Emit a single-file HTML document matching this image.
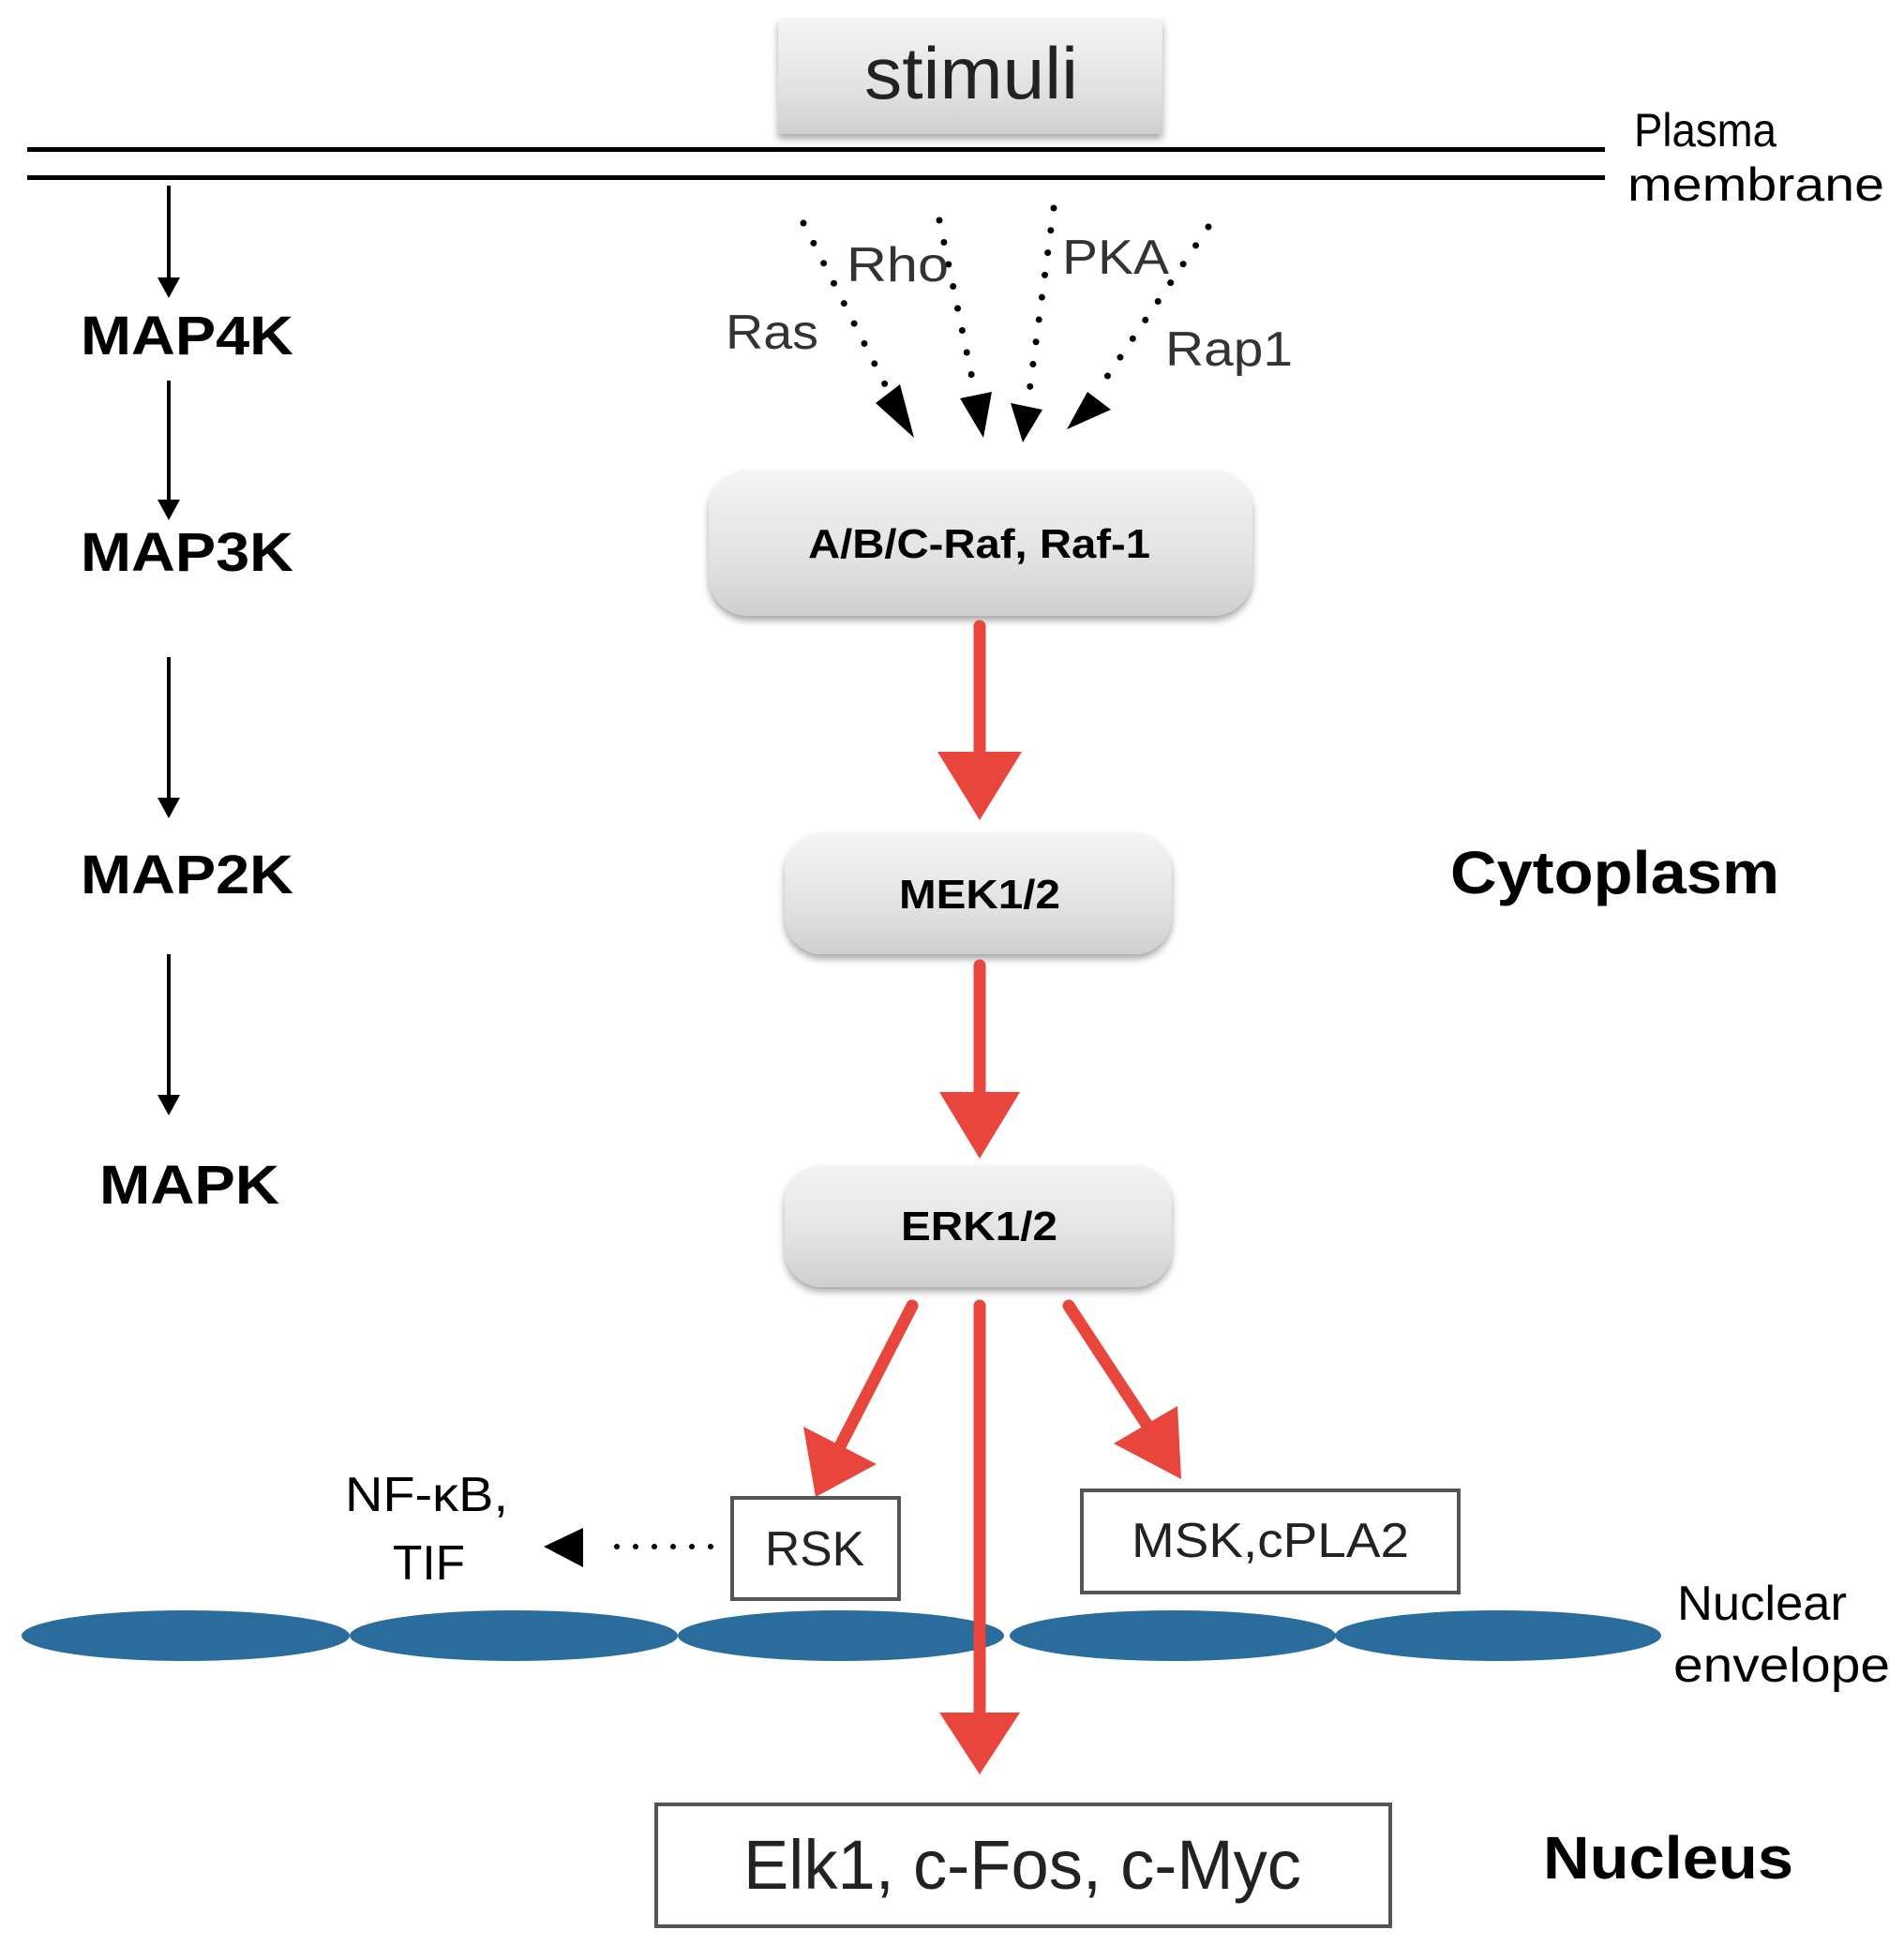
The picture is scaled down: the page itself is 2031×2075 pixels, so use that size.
<!DOCTYPE html>
<html><head><meta charset="utf-8"><style>html,body{margin:0;padding:0;background:#fff}svg{display:block}</style></head>
<body>
<svg width="2031" height="2075" viewBox="0 0 2031 2075" xmlns="http://www.w3.org/2000/svg" font-family="Liberation Sans, sans-serif">
<defs>
<linearGradient id="g" x1="0" y1="0" x2="0" y2="1">
<stop offset="0" stop-color="#f4f4f4"/><stop offset="0.6" stop-color="#e2e2e2"/><stop offset="1" stop-color="#cfcfcf"/>
</linearGradient>
<filter id="sh" x="-10%" y="-10%" width="120%" height="130%"><feDropShadow dx="0" dy="5" stdDeviation="4" flood-color="#000" flood-opacity="0.35"/></filter>
</defs>
<!-- stimuli -->
<rect x="830" y="20" width="410" height="123" fill="url(#g)" filter="url(#sh)"/>
<text x="922" y="105" font-size="78" fill="#222" textLength="228" lengthAdjust="spacingAndGlyphs">stimuli</text>
<!-- membrane -->
<rect x="29" y="157" width="1683" height="5" fill="#000"/>
<rect x="29" y="187" width="1683" height="5" fill="#000"/>
<text x="1743" y="156" font-size="50" textLength="152" lengthAdjust="spacingAndGlyphs">Plasma</text>
<text x="1736" y="214" font-size="50" textLength="274" lengthAdjust="spacingAndGlyphs">membrane</text>
<!-- left cascade -->
<g stroke="#000" stroke-width="4">
<line x1="180" y1="198" x2="180" y2="300"/><line x1="180" y1="406" x2="180" y2="537"/>
<line x1="180" y1="701" x2="180" y2="855"/><line x1="180" y1="1018" x2="180" y2="1172"/>
</g>
<g fill="#000">
<path d="M168,296 L192,296 L180,318z"/><path d="M168,533 L192,533 L180,555z"/>
<path d="M168,851 L192,851 L180,873z"/><path d="M168,1168 L192,1168 L180,1190z"/>
</g>
<g font-size="58" font-weight="bold">
<text x="86" y="378" textLength="227" lengthAdjust="spacingAndGlyphs">MAP4K</text>
<text x="86" y="609" textLength="227" lengthAdjust="spacingAndGlyphs">MAP3K</text>
<text x="86" y="953" textLength="227" lengthAdjust="spacingAndGlyphs">MAP2K</text>
<text x="106" y="1284" textLength="192" lengthAdjust="spacingAndGlyphs">MAPK</text>
</g>
<!-- dotted inputs -->
<g stroke="#000" stroke-width="7" stroke-linecap="round" stroke-dasharray="0 24" fill="none">
<line x1="857" y1="238" x2="948" y2="418"/>
<line x1="1002" y1="235" x2="1040" y2="418"/>
<line x1="1124" y1="222" x2="1098" y2="418"/>
<line x1="1289" y1="242" x2="1170" y2="418"/>
</g>
<g fill="#000">
<path d="M934,430 L960,410 L975,467z"/>
<path d="M1024,425 L1058,418 L1049,467z"/>
<path d="M1078,430 L1112,437 L1091,472z"/>
<path d="M1160,418 L1185,437 L1138,458z"/>
</g>
<g font-size="52" fill="#333">
<text x="774" y="372" textLength="99" lengthAdjust="spacingAndGlyphs">Ras</text>
<text x="903" y="300" textLength="109" lengthAdjust="spacingAndGlyphs">Rho</text>
<text x="1133" y="292" textLength="114" lengthAdjust="spacingAndGlyphs">PKA</text>
<text x="1243" y="390" textLength="136" lengthAdjust="spacingAndGlyphs">Rap1</text>
</g>
<!-- kinase boxes -->
<rect x="756" y="502" width="580" height="155" rx="42" fill="url(#g)" filter="url(#sh)"/>
<text x="862" y="595" font-size="44" font-weight="bold" textLength="365" lengthAdjust="spacingAndGlyphs">A/B/C-Raf, Raf-1</text>
<rect x="837" y="889" width="413" height="129" rx="40" fill="url(#g)" filter="url(#sh)"/>
<text x="959" y="969" font-size="44" font-weight="bold" textLength="172" lengthAdjust="spacingAndGlyphs">MEK1/2</text>
<rect x="837" y="1243" width="413" height="130" rx="40" fill="url(#g)" filter="url(#sh)"/>
<text x="961" y="1323" font-size="44" font-weight="bold" textLength="167" lengthAdjust="spacingAndGlyphs">ERK1/2</text>
<!-- red arrows -->
<g stroke="#e8453c" stroke-width="13" stroke-linecap="round">
<line x1="1045" y1="668" x2="1045" y2="810"/>
<line x1="1045" y1="1030" x2="1045" y2="1170"/>
<line x1="973" y1="1393" x2="895" y2="1545"/>
<line x1="1045" y1="1393" x2="1045" y2="1840"/>
<line x1="1140" y1="1393" x2="1230" y2="1530"/>
</g>
<g fill="#e8453c">
<path d="M1000,802 L1090,802 L1045,875z"/>
<path d="M1002,1165 L1088,1165 L1045,1236z"/>
<path d="M857,1522 L935,1562 L870,1597z"/>
<path d="M1256,1500 L1260,1578 L1188,1540z"/>
<path d="M1002,1827 L1088,1827 L1045,1893z"/>
</g>
<!-- RSK etc -->
<rect x="781" y="1598" width="178" height="108" fill="#fff" stroke="#555" stroke-width="4"/>
<text x="816" y="1670" font-size="52" fill="#222" textLength="106" lengthAdjust="spacingAndGlyphs">RSK</text>
<rect x="1154" y="1590" width="402" height="109" fill="#fff" stroke="#555" stroke-width="4"/>
<text x="1207" y="1661" font-size="52" fill="#222" textLength="296" lengthAdjust="spacingAndGlyphs">MSK,cPLA2</text>
<text x="368" y="1612" font-size="52" textLength="174" lengthAdjust="spacingAndGlyphs">NF-κB,</text>
<text x="419" y="1685" font-size="52" textLength="77" lengthAdjust="spacingAndGlyphs">TIF</text>
<line x1="758" y1="1650" x2="640" y2="1650" stroke="#000" stroke-width="6" stroke-linecap="round" stroke-dasharray="0 20"/>
<path d="M580,1650 L622,1630 L622,1672z" fill="#000"/>
<!-- nuclear envelope -->
<g fill="#2a6c9c">
<ellipse cx="198" cy="1745" rx="175" ry="27"/><ellipse cx="548" cy="1745" rx="175" ry="27"/>
<ellipse cx="897" cy="1745" rx="174" ry="27"/><ellipse cx="1251" cy="1745" rx="174" ry="27"/>
<ellipse cx="1598" cy="1745" rx="174" ry="27"/>
</g>
<line x1="1045" y1="1715" x2="1045" y2="1775" stroke="#e8453c" stroke-width="13"/>
<text x="1789" y="1728" font-size="52" textLength="181" lengthAdjust="spacingAndGlyphs">Nuclear</text>
<text x="1785" y="1794" font-size="52" textLength="231" lengthAdjust="spacingAndGlyphs">envelope</text>
<text x="1547" y="953" font-size="64" font-weight="bold" textLength="351" lengthAdjust="spacingAndGlyphs">Cytoplasm</text>
<!-- nucleus -->
<rect x="700" y="1925" width="783" height="130" fill="#fff" stroke="#555" stroke-width="4"/>
<text x="793" y="2015" font-size="74" fill="#222" textLength="595" lengthAdjust="spacingAndGlyphs">Elk1, c-Fos, c-Myc</text>
<text x="1646" y="2004" font-size="64" font-weight="bold" textLength="267" lengthAdjust="spacingAndGlyphs">Nucleus</text>
</svg>
</body></html>
